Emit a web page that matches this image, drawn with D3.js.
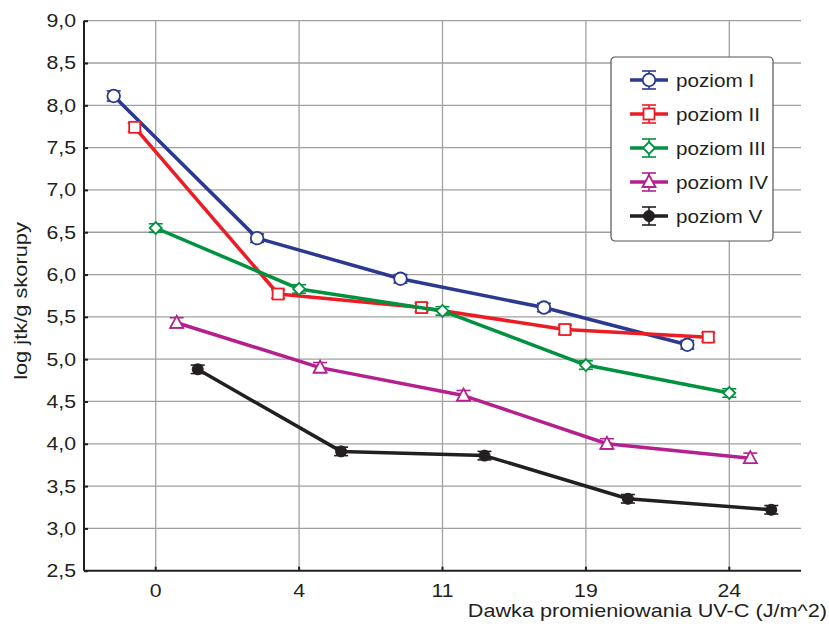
<!DOCTYPE html>
<html><head><meta charset="utf-8">
<script src="https://cdn.jsdelivr.net/npm/d3@7"></script>
<style>body{margin:0;background:#fff}svg{display:block}text{font-family:"Liberation Sans",Arial,sans-serif;fill:#231f20}</style>
</head><body>
<svg id="c" width="829" height="627"></svg>
<script>
const categories = ["0","4","11","19","24"];
const seriesNames = ["poziom I","poziom II","poziom III","poziom IV","poziom V"];
const poziomI   = [8.11, 6.43, 5.95, 5.61, 5.17];
const poziomII  = [7.74, 5.77, 5.61, 5.35, 5.26];
const poziomIII = [6.55, 5.83, 5.57, 4.93, 4.60];
const poziomIV  = [5.43, 4.90, 4.57, 4.00, 3.83];
const poziomV   = [4.88, 3.91, 3.86, 3.35, 3.22];
const errI   = [0.06, 0.05, 0.05, 0.05, 0.05];
const errII  = [0.05, 0.05, 0.05, 0.05, 0.05];
const errIII = [0.05, 0.05, 0.05, 0.05, 0.05];
const errIV  = [0.06, 0.06, 0.06, 0.06, 0.06];
const errV   = [0.05, 0.05, 0.05, 0.05, 0.05];
const yTicks = [2.5,3.0,3.5,4.0,4.5,5.0,5.5,6.0,6.5,7.0,7.5,8.0,8.5,9.0];

const colors = ["#2b3990","#ed1c24","#00923f","#b5208f","#231f20"];
const markers = ["circle","square","diamond","triangle","dot"];
const series = seriesNames.map((n,i)=>({name:n, values:[poziomI,poziomII,poziomIII,poziomIV,poziomV][i], err:[errI,errII,errIII,errIV,errV][i], color:colors[i], marker:markers[i]}));

const svg = d3.select("#c");
const L=84, R=801, T=20.7, B=570.7;
const x = d3.scaleBand().domain(categories).range([L,R]);
const dodge = d3.scaleBand().domain(seriesNames).range([-52.5,52.5]);
const y = d3.scaleLinear().domain([2.5,9.0]).range([B,T]);
const fmt = d=>d3.format(".1f")(d).replace(".",",");
function stretch(sel,k){ sel.each(function(){ const l=this.getComputedTextLength(); d3.select(this).attr("textLength",l*k).attr("lengthAdjust","spacingAndGlyphs"); }); }

// grid
svg.append("g").selectAll("line").data(yTicks.slice(1)).join("line")
  .attr("x1",L).attr("x2",R).attr("y1",d=>y(d)).attr("y2",d=>y(d))
  .attr("stroke","#a0a0a0").attr("stroke-width",1.3);
svg.append("g").selectAll("line").data(categories).join("line")
  .attr("x1",d=>x(d)+x.bandwidth()/2).attr("x2",d=>x(d)+x.bandwidth()/2).attr("y1",T).attr("y2",B)
  .attr("stroke","#a0a0a0").attr("stroke-width",1.3);

// axes
const yAxis = svg.append("g").attr("transform",`translate(${L},0)`)
  .call(d3.axisLeft(y).tickValues(yTicks).tickFormat(fmt).tickSizeInner(-4).tickSizeOuter(0).tickPadding(8));
yAxis.select(".domain").attr("stroke","#231f20").attr("stroke-width",2).attr("d",`M0,${T}V${B}`);
yAxis.selectAll(".tick line").attr("stroke","#231f20").attr("stroke-width",2);
yAxis.selectAll("text").attr("font-size",18.5).attr("font-family","Liberation Sans, Arial, sans-serif").attr("fill","#231f20").call(stretch,1.15);
const xAxis = svg.append("g").attr("transform",`translate(0,${B})`)
  .call(d3.axisBottom(x).tickSizeInner(-4).tickSizeOuter(0).tickPadding(13));
xAxis.select(".domain").attr("stroke","#231f20").attr("stroke-width",2).attr("d",`M${L},0H${R}`);
xAxis.selectAll(".tick line").attr("stroke","#231f20").attr("stroke-width",2);
xAxis.selectAll("text").attr("font-size",18.5).attr("font-family","Liberation Sans, Arial, sans-serif").attr("fill","#231f20").call(stretch,1.15);

// titles
svg.append("text").attr("transform",`translate(27,301) rotate(-90)`).attr("text-anchor","middle")
  .attr("font-size",18.5).text("log jtk/g skorupy").call(stretch,1.18);
svg.append("text").attr("x",827).attr("y",617).attr("text-anchor","end").attr("font-size",19)
  .text("Dawka promieniowania UV-C (J/m^2)").call(stretch,1.14);

function drawMarker(g, type, color){
  if(type==="circle") g.append("circle").attr("r",6.3).attr("fill","#fff").attr("stroke",color).attr("stroke-width",1.8);
  else if(type==="square") g.append("rect").attr("x",-5.5).attr("y",-5.5).attr("width",11).attr("height",11).attr("fill","#fff").attr("stroke",color).attr("stroke-width",1.8);
  else if(type==="diamond") g.append("path").attr("d","M0,-6L6,0L0,6L-6,0Z").attr("fill","#fff").attr("stroke",color).attr("stroke-width",1.8);
  else if(type==="triangle") g.append("path").attr("d","M0,-7L6.5,5L-6.5,5Z").attr("fill","#fff").attr("stroke",color).attr("stroke-width",1.8);
  else g.append("circle").attr("r",5.5).attr("fill",color).attr("stroke",color);
}

const px = (s,i)=>x(categories[i])+x.bandwidth()/2+dodge(s.name)+dodge.bandwidth()/2;
const line = d3.line();
series.forEach(s=>{
  const g = svg.append("g");
  g.append("path").attr("d",line(s.values.map((v,i)=>[px(s,i),y(v)])))
    .attr("fill","none").attr("stroke",s.color).attr("stroke-width",3.5).attr("stroke-linejoin","round");
  s.values.forEach((v,i)=>{
    const cx=px(s,i), e=s.err[i];
    const eg=g.append("g").attr("stroke",s.color).attr("stroke-width",1.6);
    eg.append("line").attr("x1",cx).attr("x2",cx).attr("y1",y(v+e)).attr("y2",y(v-e));
    eg.append("line").attr("x1",cx-7).attr("x2",cx+7).attr("y1",y(v+e)).attr("y2",y(v+e));
    eg.append("line").attr("x1",cx-7).attr("x2",cx+7).attr("y1",y(v-e)).attr("y2",y(v-e));
    drawMarker(g.append("g").attr("transform",`translate(${cx},${y(v)})`), s.marker, s.color);
  });
});

// legend
const lg = svg.append("g").attr("transform","translate(611,57)");
lg.append("rect").attr("width",162).attr("height",184).attr("rx",4).attr("fill","#fff").attr("stroke","#555").attr("stroke-width",1.2);
series.forEach((s,i)=>{
  const row = lg.append("g").attr("transform",`translate(38,${23+i*34})`);
  row.append("line").attr("x1",-19).attr("x2",19).attr("stroke",s.color).attr("stroke-width",3.5);
  row.append("line").attr("y1",-9).attr("y2",9).attr("stroke",s.color).attr("stroke-width",1.6);
  row.append("line").attr("x1",-7).attr("x2",7).attr("y1",-9).attr("y2",-9).attr("stroke",s.color).attr("stroke-width",1.6);
  row.append("line").attr("x1",-7).attr("x2",7).attr("y1",9).attr("y2",9).attr("stroke",s.color).attr("stroke-width",1.6);
  drawMarker(row, s.marker, s.color);
  row.append("text").attr("x",27).attr("y",6.5).attr("font-size",18).text(s.name).call(stretch,1.15);
});
</script>
</body></html>
